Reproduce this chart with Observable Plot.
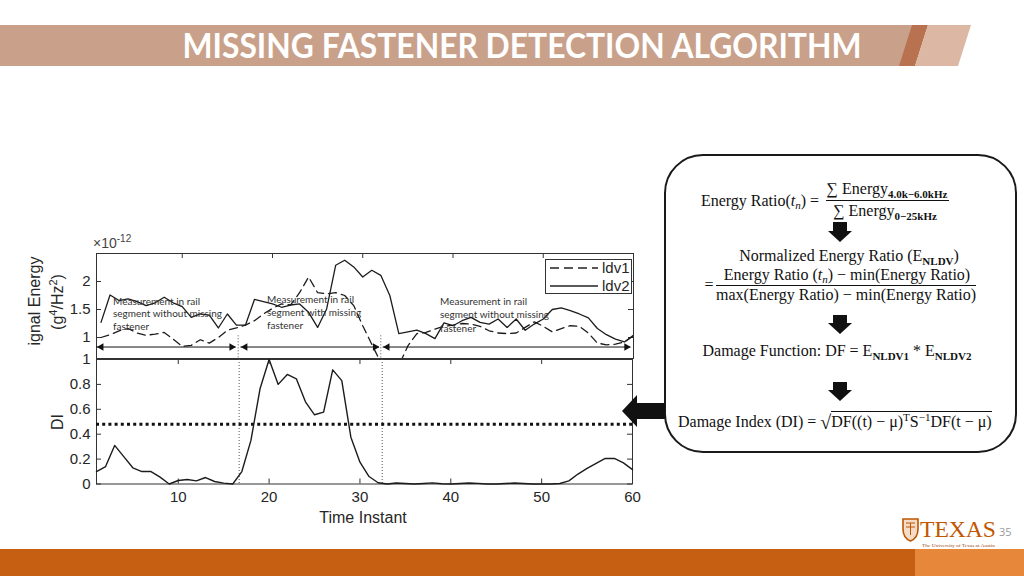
<!DOCTYPE html>
<html>
<head>
<meta charset="utf-8">
<script src="https://cdn.jsdelivr.net/npm/d3@7"></script>
<script src="https://cdn.jsdelivr.net/npm/@observablehq/plot@0.6"></script>
<style>
html,body{margin:0;padding:0;background:#fff;}
#slide{position:relative;width:1024px;height:576px;overflow:hidden;background:#fff;}
.abs{position:absolute;}
.ax{position:absolute;font-family:"Liberation Sans",Arial,sans-serif;color:#262626;font-size:16px;white-space:nowrap;line-height:1;}
.rot{transform:translate(-50%,-50%) rotate(-90deg);}
.note{position:absolute;font-family:Lato,"Open Sans",sans-serif;font-size:10px;color:#333;white-space:nowrap;}
.eq{position:absolute;font-family:"Liberation Serif","DejaVu Serif",serif;font-size:16px;color:#111;white-space:nowrap;line-height:1;transform:translate(-50%,-50%);}
.eql{position:absolute;font-family:"Liberation Serif","DejaVu Serif",serif;font-size:16px;color:#111;white-space:nowrap;line-height:1;}
.sb{font-size:11px;font-weight:bold;position:relative;top:4px;}
.sp{font-size:11px;position:relative;top:-6px;}
.fl{position:absolute;height:1px;background:#111;}
</style>
</head>
<body>
<div id="slide">
  <svg class="abs" width="1024" height="576" style="left:0;top:0">
    <!-- title bar -->
    <polygon points="0,25 925,25 912,66 0,66" fill="#c9a18a"/>
    <polygon points="912,25 928,25 915,66 899,66" fill="#b8724f"/>
    <polygon points="928,25 971,25 958,66 915,66" fill="#dcb7a4"/>
    <text x="522" y="58" text-anchor="middle" textLength="679" lengthAdjust="spacingAndGlyphs"
      font-family="Lato, 'Open Sans', sans-serif" font-weight="bold" font-size="34" fill="#ffffff">MISSING FASTENER DETECTION ALGORITHM</text>
    <!-- bottom bar -->
    <rect x="0" y="549" width="915" height="27" fill="#c75f12"/>
    <rect x="915" y="549" width="109" height="27" fill="#e7873a"/>
    <!-- equation box -->
    <rect x="665" y="155" width="351" height="297" rx="38" ry="38" fill="#fff" stroke="#1a1a1a" stroke-width="2"/>
    <!-- down arrows -->
    <polygon points="833,222 847,222 847,231 852,231 840,242 828,231 833,231" fill="#111"/>
    <polygon points="833,315 847,315 847,323 852,323 840,334 828,323 833,323" fill="#111"/>
    <polygon points="833,382 847,382 847,390 852,390 840,401 828,390 833,390" fill="#111"/>
    <!-- logo -->
    <path d="M903,519 h15 v10 q0,9 -7.5,12 q-7.5,-3 -7.5,-12 z" fill="#f4dcc8" stroke="#bf5700" stroke-width="1.6"/>
    <path d="M906,523 h9 M906,527 h9 M910.5,523 v12" stroke="#bf5700" stroke-width="1"/>
    <text x="920" y="537" textLength="76" lengthAdjust="spacingAndGlyphs" font-family="'Liberation Serif', serif" font-size="23" fill="#bf5700">TEXAS</text>
    <text x="922" y="547" textLength="73" lengthAdjust="spacingAndGlyphs" font-family="'Liberation Serif', serif" font-size="4.5" fill="#9a4a10">The University of Texas at Austin</text>
    <text x="999" y="536" font-family="'Open Sans', sans-serif" font-size="11" fill="#9a9a9a">35</text>
  </svg>

  <div id="topChart" class="abs" style="left:0;top:240px"></div>
  <div id="diChart" class="abs" style="left:0;top:350px"></div>

  <!-- axis labels -->
  <div class="ax rot" style="left:35px;top:301px;">ignal Energy</div>
  <div class="ax rot" style="left:58px;top:302px;">(g<span style="font-size:11px;position:relative;top:-6px">4</span>/Hz<span style="font-size:11px;position:relative;top:-6px">2</span>)</div>
  <div class="ax" style="left:93px;top:236px;font-size:14px;color:#444;">×10<span style="font-size:10px;position:relative;top:-6px">-12</span></div>
  <div class="ax rot" style="left:58px;top:422px;">DI</div>
  <div class="ax" style="left:363px;top:518px;transform:translate(-50%,-50%);">Time Instant</div>

  <!-- annotations -->
  <div class="note" style="left:113px;top:295px;line-height:12.3px;">Measurement in rail<br>segment without missing<br>fastener</div>
  <div class="note" style="left:267px;top:293px;line-height:12.8px;">Measurement in rail<br>segment with missing<br>fastener</div>
  <div class="note" style="left:440px;top:295px;line-height:13.3px;">Measurement in rail<br>segment without missing<br>fastener</div>

  <!-- equations -->
  <div class="eq" style="left:760px;top:201px;">Energy Ratio(<i>t<span style="font-size:11px;position:relative;top:3px">n</span></i>) =</div>
  <div class="eq" style="left:887px;top:189px;">∑ Energy<span class="sb">4.0k−6.0kHz</span></div>
  <div class="fl" style="left:826px;top:200px;width:123px;"></div>
  <div class="eq" style="left:885px;top:211px;">∑ Energy<span class="sb">0−25kHz</span></div>

  <div class="eq" style="left:849px;top:256px;">Normalized Energy Ratio (E<span class="sb">NLDV</span>)</div>
  <div class="eq" style="left:709px;top:285px;">=</div>
  <div class="eq" style="left:847px;top:275px;">Energy Ratio (<i>t<span style="font-size:11px;position:relative;top:3px">n</span></i>) − min(Energy Ratio)</div>
  <div class="fl" style="left:716px;top:285px;width:260px;"></div>
  <div class="eq" style="left:846px;top:295px;">max(Energy Ratio) − min(Energy Ratio)</div>

  <div class="eq" style="left:837px;top:351px;">Damage Function: DF = E<span class="sb">NLDV1</span> * E<span class="sb">NLDV2</span></div>

  <div class="eql" style="left:678px;top:410px;">Damage Index (DI) = <span style="font-size:20px;position:relative;top:2px">√</span><span style="border-top:1px solid #111;padding-top:1px;">DF((t) − μ)<span class="sp">T</span>S<span class="sp">−1</span>DF(t − μ)</span></div>

  <svg class="abs" width="1024" height="576" style="left:0;top:0;pointer-events:none">
    <!-- legend -->
    <rect x="545.5" y="259.5" width="86" height="34" fill="#fff" stroke="#333" stroke-width="1"/>
    <line x1="550" y1="268" x2="598" y2="268" stroke="#222" stroke-width="1.3" stroke-dasharray="9,5"/>
    <line x1="550" y1="286" x2="598" y2="286" stroke="#222" stroke-width="1.3"/>
    <text x="602" y="273" font-family="'Liberation Sans', Arial, sans-serif" font-size="15" fill="#262626">ldv1</text>
    <text x="602" y="291" font-family="'Liberation Sans', Arial, sans-serif" font-size="15" fill="#262626">ldv2</text>
    <!-- big left arrow -->
    <polygon points="622,411 637,395 637,403 665,403 665,419 637,419 637,427" fill="#111"/>
  </svg>
</div>

<script>
// ---------- data ----------
const timeInstant = [1,2,3,4,5,6,7,8,9,10,11,12,13,14,15,16,17,18,19,20,21,22,23,24,25,26,27,28,29,30,
  31,32,33,34,35,36,37,38,39,40,41,42,43,44,45,46,47,48,49,50,51,52,53,54,55,56,57,58,59,60];

// signal energy (x 1e-12 g^4/Hz^2)
const ldv1 = [1.00,1.05,1.12,1.16,1.08,1.04,1.06,1.09,0.97,0.84,0.86,0.96,0.90,1.00,1.13,1.17,1.22,1.30,1.42,1.52,
  1.60,1.58,1.80,2.08,1.80,1.78,1.80,1.75,1.57,1.21,0.88,0.55,0.45,0.50,0.85,1.07,1.09,1.15,1.20,1.22,
  1.25,1.24,1.20,1.12,1.08,1.07,1.08,1.18,1.28,1.20,1.10,1.16,1.21,1.20,1.08,0.90,0.87,0.88,0.92,1.03];
const ldv2 = [1.27,1.76,1.66,1.69,1.64,1.57,1.62,1.72,1.62,1.55,1.36,1.42,1.40,1.17,1.42,1.22,1.22,1.68,1.64,1.60,
  1.54,1.58,1.60,1.45,1.18,1.51,2.29,2.38,2.26,2.08,2.20,2.11,1.75,1.07,1.10,1.13,1.07,0.98,1.26,1.21,
  1.30,1.36,1.27,1.24,1.33,1.18,1.33,1.13,1.24,1.33,1.50,1.53,1.48,1.42,1.35,1.16,1.05,0.97,0.92,1.04];

// damage index
const damageIndex = [0.10,0.14,0.31,0.22,0.13,0.10,0.10,0.055,0.00,0.028,0.036,0.025,0.052,0.02,0.007,0.00,0.10,0.35,0.765,1.00,
  0.80,0.88,0.845,0.66,0.556,0.577,0.917,0.83,0.376,0.175,0.06,0.01,0.00,0.008,0.004,0.00,0.004,0.009,0.002,0.00,
  0.004,0.008,0.005,0.00,0.00,0.004,0.008,0.004,0.00,0.00,0.00,0.004,0.025,0.08,0.125,0.165,0.205,0.205,0.17,0.115];
const threshold = 0.48;

// segment boundaries and measurement spans (x in each panel's own time scale)
const boundaryTop = [16.2, 32.0];
const boundaryDI = [16.7, 32.45];
const spanStart = [0.55, 16.5, 32.25];
const spanEnd = [15.95, 31.85, 59.7];
const spanLevel = 0.83;

// tick labels
const xTicks = [10, 20, 30, 40, 50, 60];
const energyTicks = [1, 1.5, 2];
const diTicks = [0, 0.2, 0.4, 0.6, 0.8, 1];

// ---------- tables ----------
const energyRows = timeInstant.map((t, i) => ({t, ldv1: ldv1[i], ldv2: ldv2[i]}));
const diRows = timeInstant.map((t, i) => ({t, di: damageIndex[i]}));
const spans = spanStart.map((x1, i) => ({x1, x2: spanEnd[i]}));

const ink = "#1c1c1c";
const plain = d => String(d);
const baseStyle = {background: "transparent", fontFamily: "'Liberation Sans', Arial, sans-serif", fontSize: "15px", color: "#262626", overflow: "visible"};

// ---------- top panel ----------
const topW = 660, topH = 118, topML = 96, topMR = 27, topMT = 13, topMB = 0;
const topPW = topW - topML - topMR, topPH = topH - topMT - topMB;
const topPlot = Plot.plot({
  width: topW, height: topH,
  marginLeft: topML, marginRight: topMR, marginTop: topMT, marginBottom: topMB,
  x: {domain: [0.5, 60], axis: null},
  y: {domain: [0.625, 2.5], axis: null},
  style: baseStyle,
  marks: [
    Plot.frame({stroke: "#333", strokeWidth: 1}),
    Plot.tickX(xTicks, {x: d => d, insetBottom: topPH - 5, stroke: "#333"}),
    Plot.tickY(energyTicks, {y: d => d, insetRight: topPW - 5, stroke: "#333"}),
    Plot.tickY(energyTicks, {y: d => d, insetLeft: topPW - 5, stroke: "#333"}),
    Plot.axisY(energyTicks, {anchor: "left", tickSize: 0, tickPadding: 6, label: null, tickFormat: plain}),
    Plot.line(energyRows, {x: "t", y: "ldv1", stroke: ink, strokeWidth: 1.3, strokeDasharray: "8,5", clip: true}),
    Plot.line(energyRows, {x: "t", y: "ldv2", stroke: ink, strokeWidth: 1.3, clip: true}),
    Plot.ruleX(boundaryTop, {x: d => d, y1: 1.03, y2: 0.625, stroke: "#555", strokeDasharray: "1,2"}),
    Plot.ruleY(spans, {x1: "x1", x2: "x2", y: spanLevel, stroke: "#111", strokeWidth: 1}),
    Plot.dot(spans, {x: "x1", y: spanLevel, symbol: "triangle", rotate: -90, r: 2.8, fill: "#111", stroke: "none", dx: 4.3}),
    Plot.dot(spans, {x: "x2", y: spanLevel, symbol: "triangle", rotate: 90, r: 2.8, fill: "#111", stroke: "none", dx: -4.3})
  ]
});
document.getElementById("topChart").appendChild(topPlot);

// ---------- DI panel ----------
const diW = 660, diH = 185, diML = 96, diMR = 28, diMT = 9, diMB = 51.5;
const diPW = diW - diML - diMR, diPH = diH - diMT - diMB;
const diPlot = Plot.plot({
  width: diW, height: diH,
  marginLeft: diML, marginRight: diMR, marginTop: diMT, marginBottom: diMB,
  x: {domain: [1, 60], label: null},
  y: {domain: [0, 1], label: null},
  style: baseStyle,
  marks: [
    Plot.frame({stroke: "#333", strokeWidth: 1}),
    Plot.tickX(xTicks, {x: d => d, insetBottom: diPH - 5, stroke: "#333"}),
    Plot.tickX(xTicks, {x: d => d, insetTop: diPH - 5, stroke: "#333"}),
    Plot.tickY(diTicks, {y: d => d, insetRight: diPW - 5, stroke: "#333"}),
    Plot.tickY(diTicks, {y: d => d, insetLeft: diPW - 5, stroke: "#333"}),
    Plot.axisX(xTicks, {anchor: "bottom", tickSize: 0, tickPadding: 7, label: null, tickFormat: plain}),
    Plot.axisY(diTicks, {anchor: "left", tickSize: 0, tickPadding: 6, label: null, tickFormat: plain}),
    Plot.ruleX(boundaryDI, {x: d => d, stroke: "#555", strokeDasharray: "1,2"}),
    Plot.ruleY([threshold], {y: d => d, stroke: "#111", strokeWidth: 3.2, strokeDasharray: "3,3.2"}),
    Plot.line(diRows, {x: "t", y: "di", stroke: ink, strokeWidth: 1.4})
  ]
});
document.getElementById("diChart").appendChild(diPlot);
</script>
</body>
</html>
